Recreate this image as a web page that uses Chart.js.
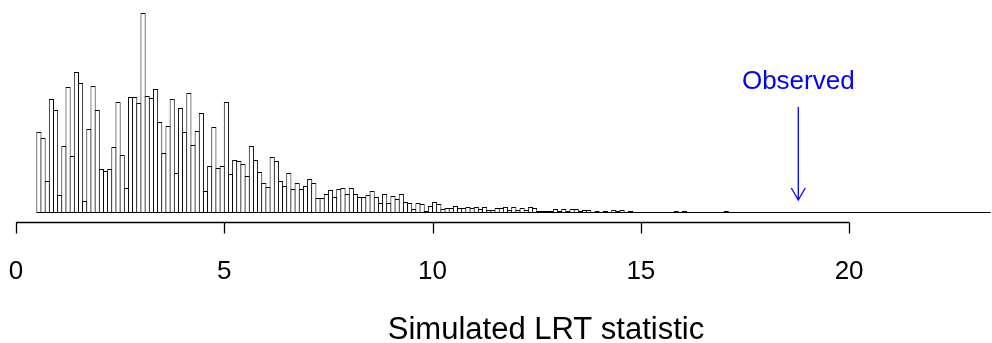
<!DOCTYPE html>
<html>
<head>
<meta charset="utf-8">
<script src="https://cdn.jsdelivr.net/npm/chart.js@4/dist/chart.umd.min.js"></script>
<style>
  html, body { margin: 0; padding: 0; background: #fff; }
  #wrap { width: 992px; height: 343px; }
</style>
</head>
<body>
<div id="wrap"><canvas id="chart-lrt"></canvas></div>
<script>
// histogram of simulated LRT statistics, bins of 0.1 starting at 0.5
const binStart = 0.5;
const binWidth = 0.1;
const counts = [
    81, 75, 32, 114, 103, 18, 67, 126, 57, 141, 130, 12, 84, 127, 103, 44, 42, 44, 66, 111, 58, 25, 116, 116, 110, 200, 117,
    115, 124, 91, 60, 87, 114, 40, 105, 81, 120, 68, 82, 100, 22, 47, 86, 45, 47, 111, 39, 53, 52, 49, 37, 67, 53, 41,
    30, 26, 56, 52, 32, 27, 40, 24, 30, 24, 27, 34, 30, 15, 15, 19, 23, 16, 24, 25, 19, 25, 19, 16, 16, 18,
    22, 16, 10, 19, 10, 17, 14, 19, 11, 10, 4, 10, 9, 2, 7, 11, 9, 4, 5, 5, 7, 5, 5, 6, 5, 6,
    4, 6, 3, 3, 5, 5, 6, 3, 6, 3, 5, 3, 6, 5, 2, 2, 2, 2, 4, 2, 4, 2, 4, 4, 2, 3, 3, 1, 2,
    1, 2, 1, 3, 2, 3, 1, 2, 1, 1, 1, 0, 1, 1, 0, 1, 1, 1, 2, 1, 2, 1, 1, 0, 1, 1, 1, 1, 1, 1, 2,
    1, 1, 0, 1, 1, 1, 0, 1, 0, 0, 0, 0, 0, 0, 0, 0, 0, 1, 1, 0, 0, 0, 1, 0, 0, 0, 0, 0, 0, 0, 0, 0,
    1, 0, 0, 0, 1, 0, 0, 0, 0, 0, 0, 0, 0, 0, 0, 0, 0, 0, 0, 0, 0, 0, 0, 1, 0, 0, 0, 0, 0, 0, 0
];
const xTicks = [0, 5, 10, 15, 20];
const observedLRT = 18.78;
const observedLabel = 'Observed';
const xTitle = 'Simulated LRT statistic';

const FONT = "'Liberation Sans', Arial, Helvetica, sans-serif";
const xMax = 23.43;

const bins = counts.map((c, i) => ({ x: binStart + binWidth * (i + 0.5), y: c }));

// R-style axis, baseline, arrow and labels
const rDecorations = {
    id: 'rDecorations',
    afterDatasetsDraw(chart) {
        const { ctx, chartArea } = chart;
        const xs = chart.scales.x;
        const x0 = xs.getPixelForValue(binStart);
        const x1 = xs.getPixelForValue(binStart + binWidth * counts.length);
        ctx.save();
        ctx.strokeStyle = '#000';
        ctx.lineWidth = 1;
        ctx.beginPath();
        ctx.moveTo(x0, chartArea.bottom - 0.5);
        ctx.lineTo(x1, chartArea.bottom - 0.5);
        ctx.stroke();
        ctx.restore();
    },
    afterDraw(chart) {
        const { ctx, chartArea } = chart;
        const xs = chart.scales.x;
        const axisY = chartArea.bottom + 9.5;

        ctx.save();
        ctx.strokeStyle = '#000';
        ctx.lineWidth = 1.3;
        ctx.beginPath();
        ctx.moveTo(xs.getPixelForValue(xTicks[0]), axisY);
        ctx.lineTo(xs.getPixelForValue(xTicks[xTicks.length - 1]), axisY);
        xTicks.forEach(v => {
            const px = Math.round(xs.getPixelForValue(v)) + 0.5;
            ctx.moveTo(px, axisY);
            ctx.lineTo(px, axisY + 11);
        });
        ctx.stroke();

        // axis title (cex.lab 1.2)
        ctx.fillStyle = '#000';
        ctx.font = `31px ${FONT}`;
        ctx.textAlign = 'center';
        ctx.textBaseline = 'alphabetic';
        ctx.fillText(xTitle, 546, 339);

        // observed arrow
        const ax = xs.getPixelForValue(observedLRT);
        ctx.strokeStyle = '#0000ff';
        ctx.fillStyle = '#0000ff';
        ctx.font = `26px ${FONT}`;
        ctx.lineWidth = 1.3;
        ctx.beginPath();
        ctx.moveTo(ax, 107);
        ctx.lineTo(ax, 200);
        ctx.moveTo(ax - 7, 188);
        ctx.lineTo(ax, 200);
        ctx.lineTo(ax + 7, 188);
        ctx.stroke();
        ctx.fillText(observedLabel, ax, 89);
        ctx.restore();
    }
};

new Chart(document.getElementById('chart-lrt').getContext('2d'), {
    type: 'bar',
    data: {
        datasets: [{
            data: bins,
            backgroundColor: '#ffffff',
            borderColor: '#000000',
            borderWidth: 1,
            borderSkipped: false,
            inflateAmount: 0,
            categoryPercentage: 1,
            barPercentage: 1.24
        }]
    },
    options: {
        responsive: true,
        maintainAspectRatio: false,
        animation: false,
        layout: { padding: { left: 16, right: 0, top: 0, bottom: 0 } },
        plugins: {
            legend: { display: false },
            tooltip: { enabled: false }
        },
        scales: {
            x: {
                type: 'linear',
                offset: false,
                min: 0,
                max: xMax,
                afterBuildTicks: s => { s.ticks = xTicks.map(v => ({ value: v })); },
                afterFit: s => {
                    s.height = 130;
                    // tick padding is only meant vertically here
                    s.paddingLeft = 0;
                    s.paddingRight = 0;
                },
                grid: { display: false, drawTicks: false },
                border: { display: false },
                ticks: {
                    color: '#000',
                    padding: 43,
                    maxRotation: 0,
                    autoSkip: false,
                    font: { family: FONT, size: 26 }
                }
            },
            y: {
                display: false,
                min: 0,
                max: 213
            }
        }
    },
    plugins: [rDecorations]
});
</script>
</body>
</html>
